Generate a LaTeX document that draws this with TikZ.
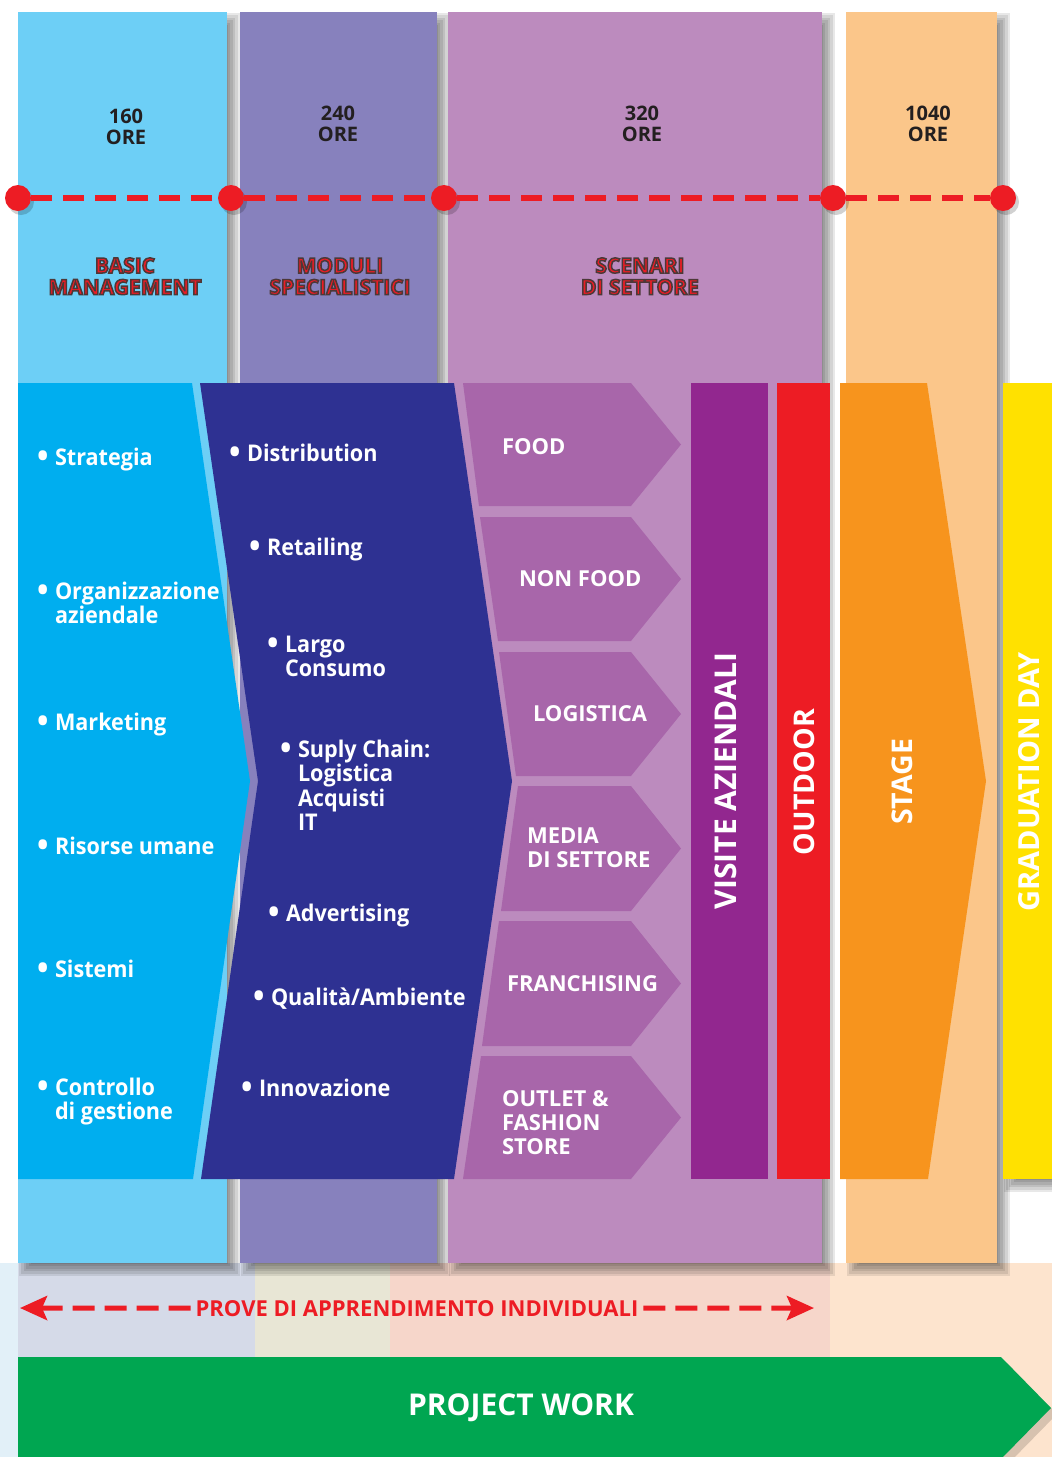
\documentclass[tikz,border=0pt]{standalone}
\usepackage{fontspec}
\usepackage{graphicx}
\setmainfont{Open Sans}
\newfontfamily\itemfont[FakeStretch=0.94]{Open Sans}
\usetikzlibrary{arrows.meta}
\definecolor{colA}{HTML}{6DCFF6}
\definecolor{colB}{HTML}{8781BD}
\definecolor{colC}{HTML}{BC8BBE}
\definecolor{colD}{HTML}{FBC68A}
\definecolor{cyanF}{HTML}{00AEEF}
\definecolor{navyF}{HTML}{2E3192}
\definecolor{pinkF}{HTML}{A866AA}
\definecolor{purpF}{HTML}{92278F}
\definecolor{redF}{HTML}{ED1C24}
\definecolor{orF}{HTML}{F7941D}
\definecolor{yelF}{HTML}{FFE100}
\definecolor{grF}{HTML}{00A651}
\definecolor{dk}{HTML}{231F20}
\definecolor{rfA}{HTML}{D5DAE8}
\definecolor{rfB}{HTML}{E8E6D5}
\definecolor{rfC}{HTML}{F6D6CA}
\definecolor{rfD}{HTML}{FDE4CE}
\definecolor{rfE}{HTML}{E2F0F8}

\newcommand\bul{\makebox[18pt][l]{\raisebox{-2.5pt}{\scalebox{1.4}{•}}}}
\newcommand\indt{\hspace*{18pt}}
\newcommand\tbl[1]{\begin{tabular}[t]{@{}l@{}}#1\end{tabular}}
\newcommand\tcn[1]{\begin{tabular}[t]{@{}c@{}}#1\end{tabular}}
\newcommand\outl[1]{\special{pdf:literal direct 2 Tr 1.5 w 0.3 0.22 0.22 RG}#1\special{pdf:literal direct 0 Tr}}
\newcommand\softshadow[4]{\foreach \m in {-6,-3.6,-1.2,1.2,3.6,6}{\fill[black,opacity=0.09] ({#1+7-\m},{#2+7-\m}) rectangle ({#3+7+\m},{#4+7+\m});}}
\newcommand\parr[4]{\fill[pinkF] (#3,#1) -- (631,#1) -- (681,{(#1+#2)/2}) -- (631,#2) -- (#4,#2) -- cycle;}

\begin{document}
\begin{tikzpicture}[x=1pt,y=-1pt,
 every node/.style={inner sep=0pt,outer sep=0pt},
 item/.style={anchor=base west,text=white,font=\fontsize{23}{24}\selectfont\itemfont\bfseries},
 seclab/.style={anchor=base west,text=white,font=\fontsize{22}{24}\selectfont\bfseries},
 hours/.style={anchor=base,text=dk,font=\fontsize{20}{21}\selectfont\bfseries},
 ttl/.style={anchor=base,text=redF,font=\fontsize{21}{21}\selectfont\bfseries},
 vlab/.style={rotate=90,text=white,font=\fontsize{#1}{#1}\selectfont\bfseries},
 vlab/.default=29,
 reddot/.style={circle,fill=redF,minimum size=26pt},
 rdash/.style={draw=redF,line width=5.5pt,dash pattern=on 21pt off 11pt},
 rarrow/.style={draw=redF,line width=5pt,dash pattern=on 22pt off 10pt,-{Stealth[length=27pt,width=24pt,inset=5pt]}}]

\useasboundingbox (0,0) rectangle (1052,1457);
\fill[white] (0,0) rectangle (1052,1457);

% faded reflections under the columns
\fill[rfE] (0,1263) rectangle (18,1457);
\fill[rfA] (18,1263) rectangle (255,1357);
\fill[rfB] (255,1263) rectangle (390,1357);
\fill[rfC] (390,1263) rectangle (830,1357);
\fill[rfD] (830,1263) rectangle (1052,1457);

% background columns
\softshadow{18}{12}{227}{1263}
\fill[colA] (18,12) rectangle (227,1263);
\softshadow{240}{12}{437}{1263}
\fill[colB] (240,12) rectangle (437,1263);
\softshadow{448}{12}{822}{1263}
\fill[colC] (448,12) rectangle (822,1263);
\softshadow{846}{12}{997}{1263}
\fill[colD] (846,12) rectangle (997,1263);

% hours
\node[hours] (h1) at (126,123) {\tcn{160\\ORE}};
\node[hours] (h2) at (338,120) {\tcn{240\\ORE}};
\node[hours] (h3) at (642,120) {\tcn{320\\ORE}};
\node[hours] (h4) at (928,120) {\tcn{1040\\ORE}};

% milestone line
\foreach \x in {18,231,444,833,1003}{\fill[black,opacity=0.18] (\x+3,202) circle (13);}
\node[reddot] (d1) at (18,198) {};
\node[reddot] (d2) at (231,198) {};
\node[reddot] (d3) at (444,198) {};
\node[reddot] (d4) at (833,198) {};
\node[reddot] (d5) at (1003,198) {};
\draw[rdash] (d1) -- (d2);
\draw[rdash] (d2) -- (d3);
\draw[rdash] (d3) -- (d4);
\draw[rdash] (d4) -- (d5);

% titles
\node[ttl] (t1) at (125,273) {\outl{\tcn{BASIC\\MANAGEMENT}}};
\node[ttl] (t2) at (340,273) {\outl{\tcn{MODULI\\SPECIALISTICI}}};
\node[ttl] (t3) at (640,273) {\outl{\tcn{SCENARI\\DI SETTORE}}};

% foreground shapes
\fill[cyanF] (18,383) -- (192,383) -- (250,781) -- (193,1179) -- (18,1179) -- cycle;
\fill[navyF] (200,383) -- (454,383) -- (512,781) -- (454,1179) -- (201,1179) -- (258,781) -- cycle;
\parr{383}{506}{463}{479}
\parr{517}{641}{480}{498}
\parr{652}{776}{499}{516}
\parr{786}{911}{518}{501}
\parr{921}{1046}{499}{482}
\parr{1056}{1179}{481}{463}
\fill[purpF] (691,383) rectangle (768,1179);
\fill[redF] (777,383) rectangle (830,1179);
\fill[orF] (840,383) -- (927,383) -- (986,781) -- (928,1179) -- (840,1179) -- cycle;
\softshadow{1003}{383}{1060}{1179}
\fill[yelF] (1003,383) rectangle (1052,1179);

% basic management items
\node[item] (a1) at (37,465) {\tbl{\bul Strategia}};
\node[item] (a2) at (37,599) {\tbl{\bul Organizzazione\\\indt aziendale}};
\node[item] (a3) at (37,730) {\tbl{\bul Marketing}};
\node[item] (a4) at (37,854) {\tbl{\bul Risorse umane}};
\node[item] (a5) at (37,977) {\tbl{\bul Sistemi}};
\node[item] (a6) at (37,1095) {\tbl{\bul Controllo\\\indt di gestione}};

% specialist modules
\node[item] (b1) at (229,461) {\tbl{\bul Distribution}};
\node[item] (b2) at (249,555) {\tbl{\bul Retailing}};
\node[item] (b3) at (267,652) {\tbl{\bul Largo\\\indt Consumo}};
\node[item] (b4) at (280,757) {\tbl{\bul Suply Chain:\\\indt Logistica\\\indt Acquisti\\\indt IT}};
\node[item] (b5) at (268,921) {\tbl{\bul Advertising}};
\node[item] (b6) at (253,1005) {\tbl{\bul Qualità/Ambiente}};
\node[item] (b7) at (241,1096) {\tbl{\bul Innovazione}};

% sector scenarios
\node[seclab] (s1) at (502,454) {\tbl{FOOD}};
\node[seclab] (s2) at (519,586) {\tbl{NON FOOD}};
\node[seclab] (s3) at (533,721) {\tbl{LOGISTICA}};
\node[seclab] (s4) at (527,843) {\tbl{MEDIA\\DI SETTORE}};
\node[seclab] (s5) at (507,991) {\tbl{FRANCHISING}};
\node[seclab] (s6) at (502,1106) {\tbl{OUTLET \&\\FASHION\\STORE}};

% vertical labels
\node[vlab=30] (v1) at (726,781) {VISITE AZIENDALI};
\node[vlab=28.5] (v2) at (804,782) {OUTDOOR};
\node[vlab=28.5] (v3) at (902,782) {STAGE};
\node[vlab=29] (v4) at (1029,782) {GRADUATION DAY};

% individual tests
\node[anchor=base,text=redF,font=\fontsize{22}{22}\selectfont\bfseries,inner xsep=5pt] (pr) at (417,1316) {PROVE DI APPRENDIMENTO INDIVIDUALI};
\coordinate (pl) at (20,1308);
\coordinate (pre) at (814,1308);
\draw[rarrow] (pr) -- (pl);
\draw[rarrow] (pr) -- (pre);

% project work
\fill[black,opacity=0.15] (24,1363) -- (1007,1363) -- (1057,1414) -- (1007,1465) -- (24,1465) -- cycle;
\fill[grF] (18,1357) -- (1001,1357) -- (1051,1408) -- (1001,1459) -- (18,1459) -- cycle;
\node[anchor=base,text=white,font=\fontsize{30}{30}\selectfont\bfseries] (pw) at (521,1415) {PROJECT WORK};
\end{tikzpicture}
\end{document}
